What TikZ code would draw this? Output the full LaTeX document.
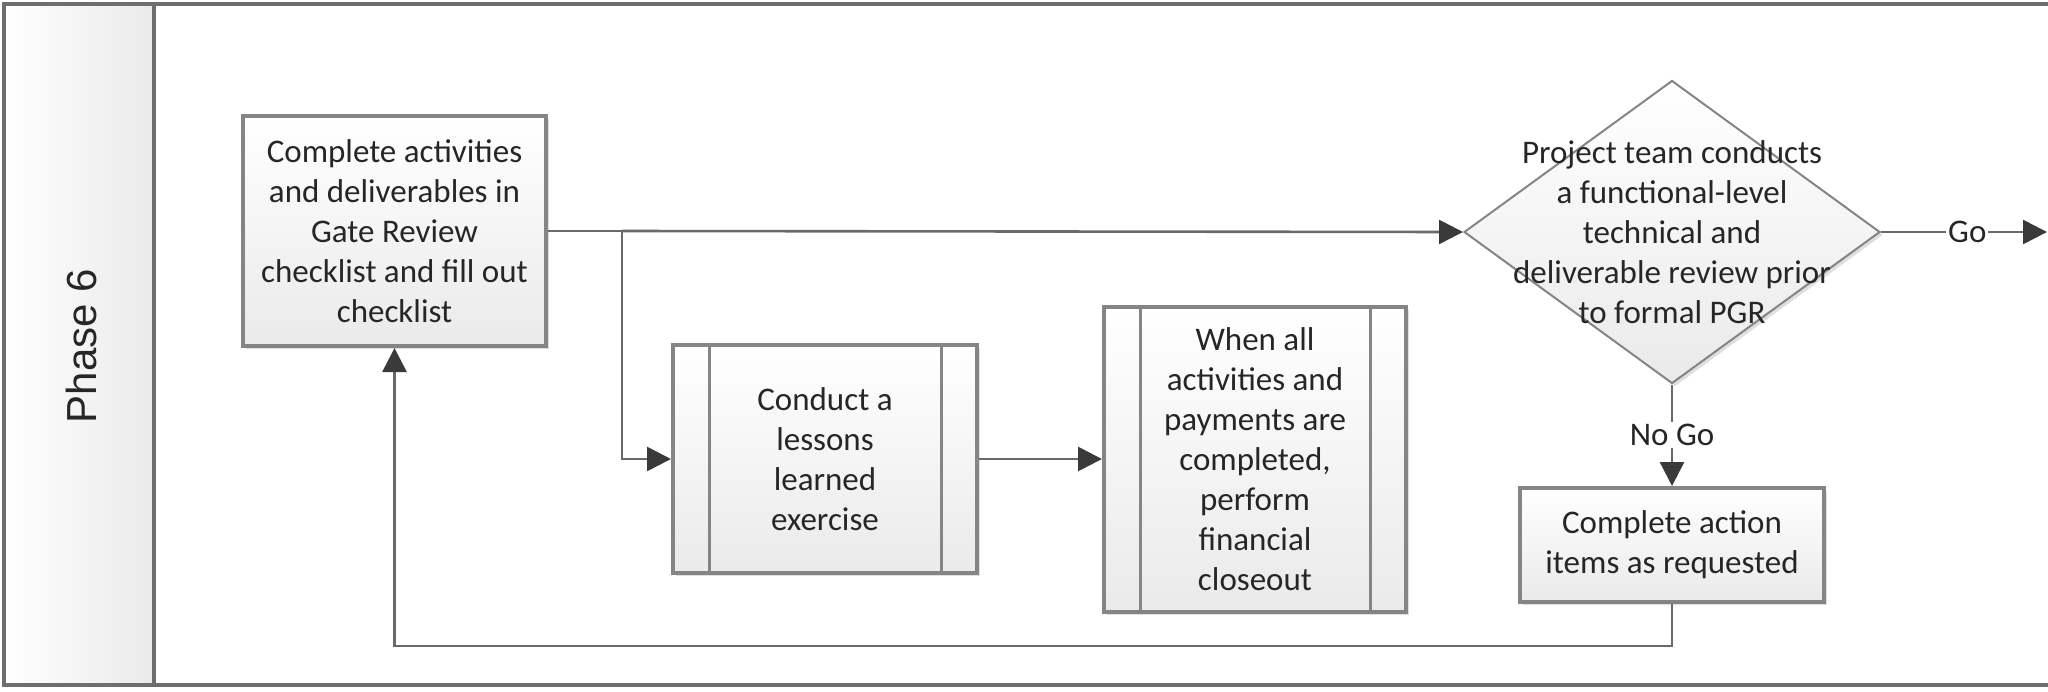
\documentclass[tikz,border=0pt]{standalone}
\usepackage{fontspec}
\setmainfont{Carlito}
\newfontfamily\arialf{Liberation Sans}
\usetikzlibrary{arrows.meta,shapes.geometric,shadows}
\definecolor{framec}{HTML}{6E6E6E}
\definecolor{boxc}{HTML}{858585}
\definecolor{connc}{HTML}{6A6A6A}
\definecolor{tipc}{HTML}{3A3A3A}
\definecolor{fillb}{HTML}{EAEAEA}
\begin{document}
\begin{tikzpicture}[x=0.5pt,y=-0.5pt,
 txt/.style={font=\fontsize{16.5}{20}\selectfont, align=center, text=black!85},
 shd/.style={drop shadow={shadow xshift=1.5pt, shadow yshift=-1.5pt, opacity=0.25, fill=gray}},
 procbox/.style={txt, draw=boxc, line width=2pt, top color=white, bottom color=fillb, inner sep=0pt, shd},
 decbox/.style={diamond, draw=boxc, line width=1pt, top color=white, bottom color=fillb, inner sep=0pt, shd},
 conn/.style={draw=connc, line width=1.3pt},
 arr/.style={conn, -{Triangle[length=12pt, width=12pt, color=tipc]}},
 lbl/.style={txt, fill=white, inner sep=1pt}
]
\useasboundingbox (0,0) rectangle (2048,691);
% lane
\fill[left color=white, right color=fillb] (4,4) rectangle (154,685);
\draw[framec, line width=2.2pt] (2048,4) -- (4,4) -- (4,685) -- (2048,685);
\draw[framec, line width=2pt] (154,4) -- (154,685);
\node[rotate=90, font=\arialf\fontsize{21}{25}\selectfont, text=black!85] (lane) at (81,346) {Phase 6};

% nodes
\node[procbox, minimum width=151.5pt, minimum height=115pt] (b1) at (394.5,231)
 {Complete activities\\and deliverables in\\Gate Review\\checklist and fill out\\checklist};
\node[procbox, minimum width=152pt, minimum height=114pt] (b2) at (825,459)
 {Conduct a\\lessons\\learned\\exercise};
\node[procbox, minimum width=151pt, minimum height=152.5pt] (b3) at (1255,459)
 {When all\\activities and\\payments are\\completed,\\perform\\financial\\closeout};
\node[decbox, minimum width=208pt, minimum height=151.5pt] (dec) at (1672,232) {};
\node[txt] (dect) at (1672,232)
 {Project team conducts\\a functional-level\\technical and\\deliverable review prior\\to formal PGR};
\node[procbox, minimum width=152pt, minimum height=57pt] (b4) at (1672,545)
 {Complete action\\items as requested};

% subprocess bars
\foreach \b in {b2,b3}{
 \draw[boxc, line width=1.5pt] ([xshift=19pt]\b.north west) -- ([xshift=19pt]\b.south west);
 \draw[boxc, line width=1.5pt] ([xshift=-19pt]\b.north east) -- ([xshift=-19pt]\b.south east);
}

% connectors
\coordinate (j) at (622,231);
\coordinate (goend) at (2047,232);
\coordinate (lp) at (394.5,646);
\draw[conn] (b1.east) -- (j);
\draw[arr] (j) -- (dec.west);
\draw[arr] (j) |- (b2.west);
\draw[arr] (b2.east) -- (b3.west);
\draw[arr] (dec.east) -- node[lbl, pos=0.52] (go) {Go} (goend);
\draw[arr] (dec.south) -- node[lbl] (nogo) {No Go} (b4.north);
\draw[arr] (b4.south) |- (lp) -- (b1.south);
\end{tikzpicture}
\end{document}
